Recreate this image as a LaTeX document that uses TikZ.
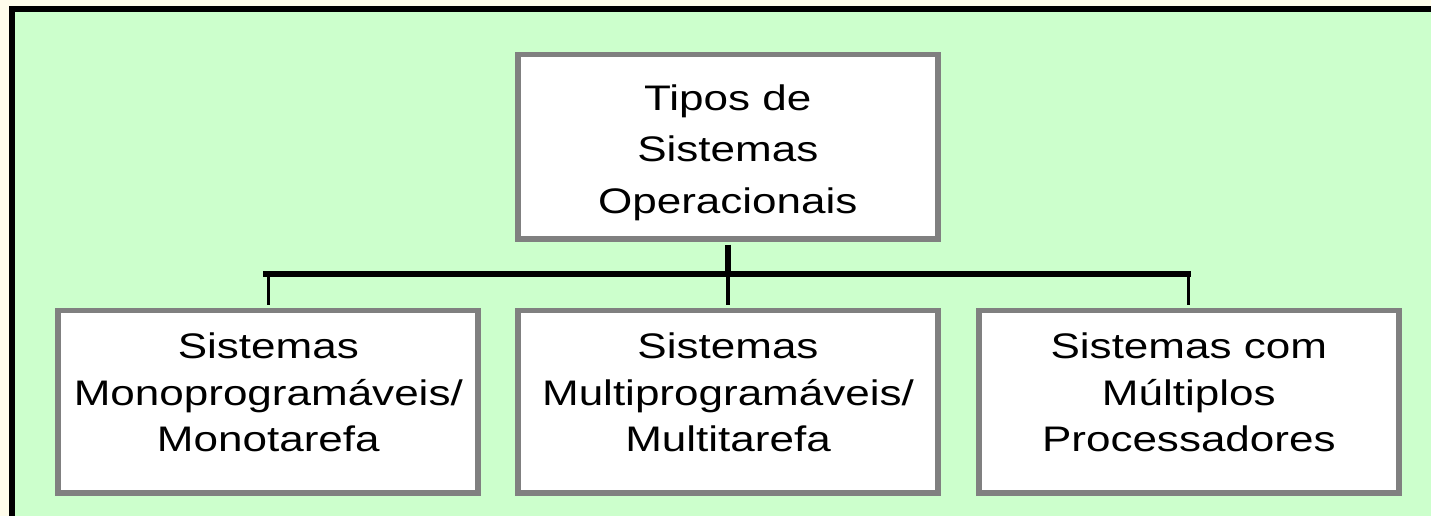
\documentclass[tikz,border=0pt]{standalone}
\usepackage{fontspec}
\newfontfamily\boxfont[FakeStretch=1.24]{Liberation Sans}
\definecolor{cream}{RGB}{255,253,235}
\definecolor{panel}{RGB}{204,255,204}
\definecolor{boxgray}{RGB}{128,128,128}
\begin{document}
\begin{tikzpicture}[x=1pt,y=-1pt,
  box/.style={draw=boxgray, line width=5.7pt, fill=white, minimum width=420pt,
    inner sep=0pt, align=center},
  topbox/.style={box, minimum height=184.3pt, text height=140pt, text depth=6.8pt,
    font=\boxfont\fontsize{35.5}{51.6}\selectfont},
  subbox/.style={box, minimum height=182.6pt, text height=120pt, text depth=20.4pt,
    font=\boxfont\fontsize{35.5}{46.7}\selectfont},
  link/.style={draw=black, line width=3.3pt},
  bar/.style={draw=black, line width=5.7pt}]
\useasboundingbox (0,0) rectangle (1431,516);
\fill[cream] (-10,-10) rectangle (1450,540);
\fill[black] (9,6) rectangle (1450,540);
\fill[panel] (15,12) rectangle (1450,540);

\node[topbox] (top) at (727.8,146.7) {Tipos de\\Sistemas\\Operacionais};
\node[subbox] (b1) at (268.3,401.9) {Sistemas\\Monoprogramáveis/\\Monotarefa};
\node[subbox] (b2) at (728,401.9) {Sistemas\\Multiprogramáveis/\\Multitarefa};
\node[subbox] (b3) at (1188.8,401.9) {Sistemas com\\Múltiplos\\Processadores};

\coordinate (hub) at (727.5,273.8);
\draw[draw=black, line width=6pt, shorten <=2.85pt] (top.south) -- (top.south |- hub);
\draw[bar] ([xshift=-5pt]b1.north |- hub) -- ([xshift=1.7pt]b3.north |- hub);
\draw[link, shorten >=2.85pt] (b1.north |- hub) -- (b1.north);
\draw[link, shorten >=2.85pt] (b2.north |- hub) -- (b2.north);
\draw[link, shorten >=2.85pt] (b3.north |- hub) -- (b3.north);
\end{tikzpicture}
\end{document}
